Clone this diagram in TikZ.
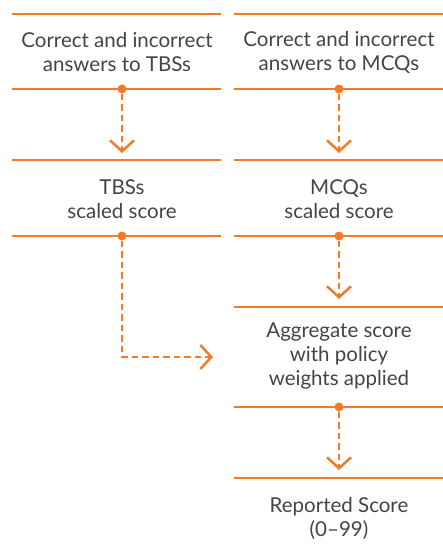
\documentclass[tikz,border=0pt]{standalone}
\usepackage{fontspec}
\setmainfont{Lato}
\usetikzlibrary{arrows.meta}
\definecolor{orng}{RGB}{243,122,38}
\definecolor{txt}{RGB}{68,68,68}
\begin{document}
\begin{tikzpicture}[x=1pt,y=-1pt,
  rule/.style={draw=orng,line width=2pt},
  lbl/.style={text=txt,font=\fontsize{20.5}{24}\selectfont,align=center,inner sep=0pt},
  dot/.style={circle,fill=orng,inner sep=0pt,minimum size=9pt},
  flow/.style={draw=orng,line width=2.5pt,dash pattern=on 6.5pt off 4pt,
    -{Straight Barb[length=11pt,width=24pt,line width=2.5pt]}}]
\useasboundingbox (0,0) rectangle (443,550);
% rules left
\draw[rule] (12,14) -- (221,14);
\draw[rule] (12,89) -- (221,89);
\draw[rule] (12,160) -- (221,160);
\draw[rule] (12,236) -- (221,236);
% rules right
\draw[rule] (234,14) -- (443,14);
\draw[rule] (234,89) -- (443,89);
\draw[rule] (234,160) -- (443,160);
\draw[rule] (234,236) -- (443,236);
\draw[rule] (234,307) -- (443,307);
\draw[rule] (234,407) -- (443,407);
\draw[rule] (234,478) -- (443,478);
% texts
\node[lbl] (tbsin) at (117,52) {Correct and incorrect\\answers to TBSs};
\node[lbl] (mcqin) at (339,52) {Correct and incorrect\\answers to MCQs};
\node[lbl] (tbss) at (122,199) {TBSs\\scaled score};
\node[lbl] (mcqs) at (339,199) {MCQs\\scaled score};
\node[lbl] (agg) at (339,356) {Aggregate score\\with policy\\weights applied};
\node[lbl] (rep) at (339,518) {Reported Score\\(0–99)};
% dots
\node[dot] (d1) at (122,89) {};
\node[dot] (d2) at (339,89) {};
\node[dot] (d3) at (122,236) {};
\node[dot] (d4) at (339,236) {};
\node[dot] (d5) at (339,407) {};
\coordinate (t1) at (122,153);
\coordinate (t2) at (339,153);
\coordinate (t4) at (339,299);
\coordinate (t5) at (339,470);
\coordinate (t3) at (213,357);
% arrows
\draw[flow] (d1) -- (t1);
\draw[flow] (d2) -- (t2);
\draw[flow] (d4) -- (t4);
\draw[flow] (d5) -- (t5);
\draw[flow] (d3) |- (t3);
\end{tikzpicture}
\end{document}
